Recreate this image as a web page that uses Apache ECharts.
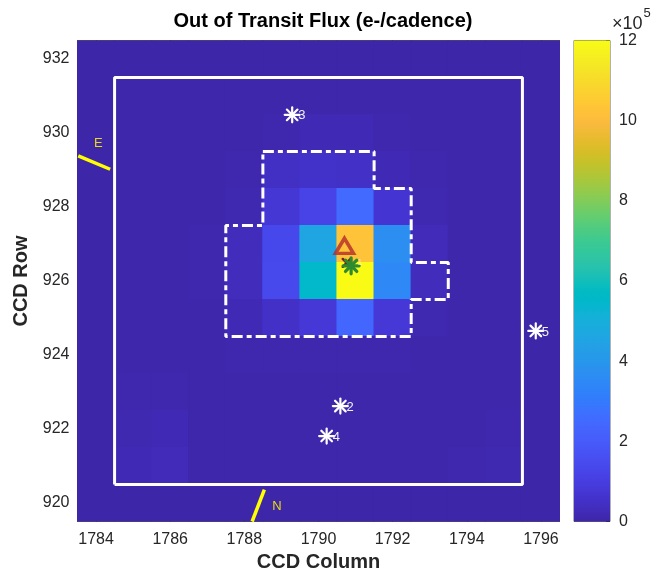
<!DOCTYPE html>
<html><head><meta charset="utf-8">
<script src="https://cdn.jsdelivr.net/npm/echarts@6/dist/echarts.min.js"></script>
<style>html,body{margin:0;padding:0;background:#fff}#c{width:661px;height:578px}</style>
</head><body><div id="c"></div>
<script>
// ---------- data ----------
const columns = [1784,1785,1786,1787,1788,1789,1790,1791,1792,1793,1794,1795,1796];
const rows = [932,931,930,929,928,927,926,925,924,923,922,921,920];
// Out-of-transit flux in units of 1e5 e-/cadence; rows top (932) to bottom (920), columns 1784..1796
const fluxE5 = [
  [0,0,0,0,0,0,0,0,0,0,0,0,0],
  [0,0.05,0.05,0.05,0.05,0.05,0.05,0.05,0.05,0.05,0.05,0.05,0],
  [0,0.05,0.05,0.05,0.05,0.08,0.2,0.2,0.08,0.05,0.05,0.05,0],
  [0,0.05,0.05,0.05,0.08,0.45,0.55,0.5,0.2,0.08,0.05,0.05,0],
  [0,0.05,0.05,0.06,0.15,0.75,1.2,2.5,0.7,0.15,0.05,0.05,0],
  [0,0.05,0.05,0.08,0.3,1.35,4.6,10.3,3.7,0.25,0.06,0.05,0],
  [0,0.05,0.05,0.08,0.3,1.4,5.5,12.0,3.5,0.3,0.06,0.05,0],
  [0,0.05,0.05,0.06,0.2,0.5,0.8,2.4,0.8,0.15,0.05,0.05,0],
  [0,0.05,0.05,0.05,0.08,0.1,0.1,0.1,0.1,0.06,0.05,0.05,0],
  [0,0.08,0.08,0.05,0.05,0.05,0.05,0.05,0.05,0.05,0.05,0.05,0],
  [0,0.12,0.2,0.05,0.05,0.05,0.05,0.05,0.05,0.05,0.06,0.08,0],
  [0,0.2,0.25,0.06,0.05,0.05,0.05,0.05,0.05,0.05,0.1,0.15,0],
  [0,0,0,0,0,0,0,0,0,0,0,0,0]
];
const xTicks = [1784,1786,1788,1790,1792,1794,1796];
const yTicks = [920,922,924,926,928,930,932];
const cbTicks = [0,2,4,6,8,10,12];
const apertureBox = [[1784.5,920.5],[1784.5,931.5],[1795.5,931.5],[1795.5,920.5],[1784.5,920.5]];
const maskOutline = [[1788.5,929.5],[1791.5,929.5],[1791.5,928.5],[1792.5,928.5],[1792.5,926.5],[1793.5,926.5],
  [1793.5,925.5],[1792.5,925.5],[1792.5,924.5],[1787.5,924.5],[1787.5,927.5],[1788.5,927.5],[1788.5,929.5]];
const neighborStars = [[1790.59,922.62],[1789.29,930.49],[1790.22,921.81],[1795.86,924.65]];
const neighborNames = ['2','3','4','5'];
const targetStar = [1790.88,926.41];
const targetName = '1';
const diffCentroid = [1790.76,926.49];
const oitCentroid = [1790.70,926.95];
const eastLine = [[1783.52,929.38],[1784.38,929.02]];
const northLine = [[1788.21,919.5],[1788.54,920.36]];
const compassLabels = [[1784.06,929.72,'E'],[1788.88,919.92,'N']];

// parula colormap (64)
const parula = [[0.2422,0.1504,0.6603],[0.2504,0.1650,0.7076],[0.2578,0.1818,0.7511],[0.2647,0.1978,0.7952],[0.2706,0.2147,0.8364],[0.2751,0.2342,0.8710],[0.2783,0.2559,0.8991],[0.2803,0.2782,0.9221],[0.2813,0.3006,0.9414],[0.2810,0.3228,0.9579],[0.2795,0.3447,0.9717],[0.2760,0.3667,0.9829],[0.2699,0.3892,0.9906],[0.2602,0.4123,0.9952],[0.2440,0.4358,0.9988],[0.2206,0.4603,0.9973],[0.1963,0.4847,0.9892],[0.1834,0.5074,0.9798],[0.1786,0.5289,0.9682],[0.1764,0.5499,0.9520],[0.1687,0.5703,0.9359],[0.1540,0.5902,0.9218],[0.1460,0.6091,0.9079],[0.1380,0.6276,0.8973],[0.1248,0.6459,0.8883],[0.1113,0.6635,0.8763],[0.0952,0.6798,0.8598],[0.0689,0.6948,0.8394],[0.0297,0.7082,0.8163],[0.0036,0.7203,0.7917],[0.0067,0.7312,0.7660],[0.0433,0.7411,0.7394],[0.0964,0.7500,0.7120],[0.1408,0.7584,0.6842],[0.1717,0.7670,0.6554],[0.1938,0.7758,0.6251],[0.2161,0.7843,0.5923],[0.2470,0.7918,0.5567],[0.2906,0.7973,0.5188],[0.3406,0.8008,0.4789],[0.3909,0.8029,0.4354],[0.4456,0.8024,0.3909],[0.5044,0.7993,0.3480],[0.5616,0.7942,0.3045],[0.6174,0.7876,0.2612],[0.6720,0.7793,0.2227],[0.7242,0.7698,0.1910],[0.7738,0.7598,0.1646],[0.8203,0.7498,0.1535],[0.8634,0.7406,0.1596],[0.9035,0.7330,0.1774],[0.9393,0.7288,0.2100],[0.9728,0.7298,0.2394],[0.9956,0.7434,0.2371],[0.9970,0.7659,0.2199],[0.9952,0.7893,0.2028],[0.9892,0.8136,0.1885],[0.9786,0.8386,0.1766],[0.9676,0.8639,0.1643],[0.9610,0.8890,0.1537],[0.9597,0.9135,0.1423],[0.9628,0.9373,0.1265],[0.9691,0.9606,0.1064],[0.9769,0.9839,0.0805]];
const toHex = c => '#' + c.map(v => Math.round(v*255).toString(16).padStart(2,'0')).join('');
const parulaHex = parula.map(toHex);

// ---------- build ----------
const cells = [];
rows.forEach((r, i) => columns.forEach((c, j) => cells.push([c, r, fluxE5[i][j]])));

const FONT = '"Liberation Sans", Arial, Helvetica, sans-serif';
const TXT = '#262626';
const plain = v => String(v);

function asterisk(p, r, color, lw, diagOnly) {
  const ch = [];
  for (let k = 0; k < 4; k++) {
    if (diagOnly && k % 2 === 0) continue;
    const a = k * Math.PI / 4;
    ch.push({type:'line', shape:{x1:p[0]-r*Math.cos(a), y1:p[1]-r*Math.sin(a), x2:p[0]+r*Math.cos(a), y2:p[1]+r*Math.sin(a)},
      style:{stroke:color, lineWidth:lw, lineCap:'round'}});
  }
  return ch;
}

const chart = echarts.init(document.getElementById('c'), null, {renderer:'canvas'});
const axisCommon = {
  type:'value', splitLine:{show:false},
  axisLine:{show:true, onZero:false, lineStyle:{color:'#555', width:1}},
  axisTick:{show:true, inside:true, length:5, lineStyle:{color:TXT}},
};
chart.setOption({
  animation:false,
  backgroundColor:'#fff',
  title:{text:'Out of Transit Flux (e-/cadence)', left:318, top:6, textAlign:'center',
    textStyle:{fontFamily:FONT, fontSize:20, fontWeight:'bold', color:'#000'}},
  grid:[
    {left:77.5, top:40.5, width:482, height:481, show:false},
    {left:574, top:40.5, width:36, height:481, show:true, borderColor:'#666', borderWidth:1, backgroundColor:'transparent'}
  ],
  xAxis:[
    Object.assign({}, axisCommon, {gridIndex:0, position:'bottom', min:1783.5, max:1796.5,
      axisTick:Object.assign({}, axisCommon.axisTick, {customValues:xTicks}),
      axisLabel:{customValues:xTicks, formatter:plain, fontFamily:FONT, fontSize:16, color:TXT, margin:10},
      name:'CCD Column', nameLocation:'middle', nameGap:30,
      nameTextStyle:{fontFamily:FONT, fontSize:20, fontWeight:'bold', color:TXT}}),
    Object.assign({}, axisCommon, {gridIndex:0, position:'top', min:1783.5, max:1796.5,
      axisTick:Object.assign({}, axisCommon.axisTick, {customValues:xTicks}),
      axisLabel:{show:false}}),
    {type:'value', gridIndex:1, min:0, max:1, show:false}
  ],
  yAxis:[
    Object.assign({}, axisCommon, {gridIndex:0, position:'left', min:919.5, max:932.5,
      axisTick:Object.assign({}, axisCommon.axisTick, {customValues:yTicks}),
      axisLabel:{customValues:yTicks, formatter:plain, fontFamily:FONT, fontSize:16, color:TXT, margin:8},
      name:'CCD Row', nameLocation:'middle', nameGap:42, nameRotate:90,
      nameTextStyle:{fontFamily:FONT, fontSize:20, fontWeight:'bold', color:TXT}}),
    Object.assign({}, axisCommon, {gridIndex:0, position:'right', min:919.5, max:932.5,
      axisTick:Object.assign({}, axisCommon.axisTick, {customValues:yTicks}),
      axisLabel:{show:false}}),
    {type:'value', gridIndex:1, position:'right', min:0, max:12, splitLine:{show:false},
      axisLine:{show:false, onZero:false},
      axisTick:{show:true, inside:true, length:4, lineStyle:{color:TXT}, customValues:cbTicks},
      axisLabel:{customValues:cbTicks, formatter:plain, fontFamily:FONT, fontSize:16, color:TXT, margin:9}}
  ],
  visualMap:{type:'continuous', show:false, min:0, max:12, dimension:2, seriesIndex:0,
    inRange:{color:parulaHex}},
  graphic:[{type:'text', left:612, top:7, z:10,
    style:{text:'{a|×10}{b|5}', rich:{a:{fontFamily:FONT, fontSize:18, fill:TXT, padding:[8,0,0,0]},
      b:{fontFamily:FONT, fontSize:13, fill:TXT, verticalAlign:'top', padding:[0,0,8,1]}}}}],
  series:[
    { // pixel image
      type:'custom', xAxisIndex:0, yAxisIndex:0, data:cells, encode:{x:0, y:1}, clip:true,
      renderItem:(params, api) => {
        const x = api.value(0), y = api.value(1);
        const p0 = api.coord([x-0.5, y+0.5]);
        const p1 = api.coord([x+0.5, y-0.5]);
        return {type:'rect', shape:{x:p0[0]-0.6, y:p0[1]-0.6, width:p1[0]-p0[0]+1.2, height:p1[1]-p0[1]+1.2},
          style:{fill:api.visual('color')}};
      }
    },
    { // aperture box
      type:'line', xAxisIndex:0, yAxisIndex:0, data:apertureBox, symbol:'none', z:5,
      lineStyle:{color:'#fff', width:3}
    },
    { // optimal aperture mask
      type:'line', xAxisIndex:0, yAxisIndex:0, data:maskOutline, symbol:'none', z:5,
      lineStyle:{color:'#fff', width:3, type:[11,4,5,4]}
    },
    { type:'line', xAxisIndex:0, yAxisIndex:0, data:eastLine, symbol:'none', z:5, lineStyle:{color:'#ffff00', width:3.5} },
    { type:'line', xAxisIndex:0, yAxisIndex:0, data:northLine, symbol:'none', z:5, lineStyle:{color:'#ffff00', width:3.5} },
    { // compass labels
      type:'custom', xAxisIndex:0, yAxisIndex:0, data:compassLabels, encode:{x:0, y:1}, z:6,
      renderItem:(params, api) => {
        const p = api.coord([api.value(0), api.value(1)]);
        return {type:'text', style:{text:compassLabels[params.dataIndex][2], x:p[0], y:p[1], fill:'#e8dc10',
          fontFamily:FONT, fontSize:13, align:'center', verticalAlign:'middle'}};
      }
    },
    { // neighbor stars
      type:'custom', xAxisIndex:0, yAxisIndex:0, data:neighborStars, encode:{x:0, y:1}, z:7,
      renderItem:(params, api) => {
        const p = api.coord([api.value(0), api.value(1)]);
        const ch = asterisk(p, 7.5, '#fff', 2.2, false);
        ch.push({type:'text', style:{text:neighborNames[params.dataIndex], x:p[0]+6, y:p[1]+1, fill:'#f0f0f0',
          fontFamily:FONT, fontSize:13, verticalAlign:'middle'}});
        return {type:'group', children:ch};
      }
    },
    { // difference image centroid (dark red x)
      type:'custom', xAxisIndex:0, yAxisIndex:0, data:[diffCentroid], encode:{x:0, y:1}, z:7,
      renderItem:(params, api) => {
        const p = api.coord([api.value(0), api.value(1)]);
        return {type:'group', children:asterisk(p, 5.5, '#7a1f1f', 2.5, true)};
      }
    },
    { // target star
      type:'custom', xAxisIndex:0, yAxisIndex:0, data:[targetStar], encode:{x:0, y:1}, z:8,
      renderItem:(params, api) => {
        const p = api.coord([api.value(0), api.value(1)]);
        const ch = asterisk(p, 8, '#2e8a2e', 3.2, false);
        ch.push({type:'text', style:{text:targetName, x:p[0]+6, y:p[1]-3, fill:'rgba(255,255,255,0.6)',
          fontFamily:FONT, fontSize:9, verticalAlign:'middle'}});
        return {type:'group', children:ch};
      }
    },
    { // out of transit centroid
      type:'scatter', xAxisIndex:0, yAxisIndex:0, data:[oitCentroid], symbol:'triangle', symbolSize:[18,15], z:9,
      itemStyle:{color:'rgba(0,0,0,0)', borderColor:'#b32b2b', borderWidth:3.5}
    },
    { // colorbar
      type:'custom', xAxisIndex:2, yAxisIndex:2, data:[[0,0]], encode:{x:0, y:1}, silent:true,
      renderItem:(params, api) => {
        const p0 = api.coord([0, 12]);
        const p1 = api.coord([1, 0]);
        const stops = parulaHex.map((c, i) => ({offset:i/(parulaHex.length-1), color:c}));
        return {type:'rect', shape:{x:p0[0], y:p0[1], width:p1[0]-p0[0], height:p1[1]-p0[1]},
          style:{fill:new echarts.graphic.LinearGradient(0,1,0,0,stops)}};
      }
    }
  ]
});
</script></body></html>
